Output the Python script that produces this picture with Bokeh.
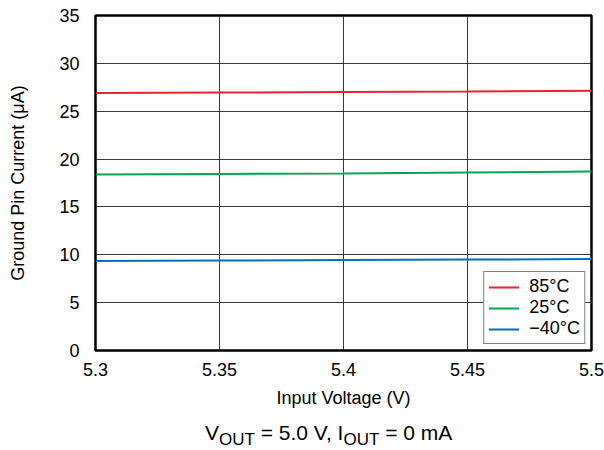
from bokeh.plotting import figure
from bokeh.layouts import column
from bokeh.models import FixedTicker, Legend, LegendItem, Div
from bokeh.embed import file_html
from bokeh.resources import INLINE

x_vals = [5.3, 5.35, 5.4, 5.45, 5.5]
i_85 = [26.9, 26.95, 27.0, 27.05, 27.15]
i_25 = [18.4, 18.45, 18.5, 18.6, 18.7]
i_m40 = [9.35, 9.4, 9.45, 9.5, 9.55]
series_names = ["85°C", "25°C", "\u221240°C"]
x_ticks = [5.3, 5.35, 5.4, 5.45, 5.5]
x_tick_labels = ["5.3", "5.35", "5.4", "5.45", "5.5"]
y_ticks = [0, 5, 10, 15, 20, 25, 30, 35]
subtitle_parts = ["V", "OUT", " = 5.0 V, I", "OUT", " = 0 mA"]

FONT = "Liberation Sans"

p = figure(width=604, height=412, output_backend="svg", toolbar_location=None,
           x_range=(5.3, 5.5), y_range=(0, 35))
p.min_border_left = 95
p.min_border_right = 13
p.min_border_top = 15
p.min_border_bottom = 62
p.background_fill_color = "white"
p.border_fill_color = "white"
p.outline_line_color = "black"
p.outline_line_width = 2.5

for ax in (p.xaxis[0], p.yaxis[0]):
    ax.axis_line_color = None
    ax.major_tick_line_color = None
    ax.minor_tick_line_color = None
    ax.major_tick_in = 0
    ax.major_tick_out = 0
    ax.major_label_text_font = FONT
    ax.major_label_text_font_size = "18px"
    ax.major_label_text_color = "black"
    ax.axis_label_text_font = FONT
    ax.axis_label_text_font_size = "18px"
    ax.axis_label_text_font_style = "normal"
    ax.axis_label_text_color = "black"

p.xaxis.ticker = FixedTicker(ticks=x_ticks)
p.xaxis.major_label_overrides = {t: l for t, l in zip(x_ticks, x_tick_labels)}
p.xaxis.major_label_standoff = 12
p.xaxis.axis_label = "Input Voltage (V)"
p.xaxis.axis_label_standoff = 9

p.yaxis.ticker = FixedTicker(ticks=y_ticks)
p.yaxis.major_label_standoff = 16
p.yaxis.axis_label = "Ground Pin Current (\u03bcA)"
p.yaxis.axis_label_standoff = 28

p.xgrid.ticker = FixedTicker(ticks=x_ticks)
p.ygrid.ticker = FixedTicker(ticks=y_ticks)
for g in (p.xgrid[0], p.ygrid[0]):
    g.grid_line_color = "#222222"
    g.grid_line_width = 1
    g.grid_line_alpha = 0.9

colors = ["#e8232f", "#00a651", "#0a6fba"]
rs = []
for ys, c in zip([i_85, i_25, i_m40], colors):
    rs.append(p.line(x_vals, ys, line_color=c, line_width=2))

legend = Legend(items=[LegendItem(label=n, renderers=[r]) for n, r in zip(series_names, rs)],
                location="bottom_right")
legend.margin = 6
legend.border_line_color = "black"
legend.border_line_width = 1.2
legend.background_fill_alpha = 1
legend.label_text_font = FONT
legend.label_text_font_size = "18px"
legend.label_text_color = "black"
legend.glyph_width = 31
legend.glyph_height = 20
legend.label_height = 20
legend.spacing = 0
legend.padding = 4
legend.label_standoff = 10
p.add_layout(legend, "center")

sub_style = "font-size:17px;vertical-align:-5px;line-height:0;"
html = ('<div style="position:absolute;left:205px;top:10px;white-space:pre;'
        'font-family:\'Liberation Sans\',Arial,sans-serif;font-size:21px;color:black;line-height:22px;">'
        f'{subtitle_parts[0]}<span style="{sub_style}">{subtitle_parts[1]}</span>'
        f'{subtitle_parts[2]}<span style="{sub_style}">{subtitle_parts[3]}</span>'
        f'{subtitle_parts[4]}</div>')
d = Div(text=html, width=604, height=38, margin=0, styles={"position": "relative"})

open("out.html", "w").write(file_html(column(p, d, spacing=0), INLINE))
